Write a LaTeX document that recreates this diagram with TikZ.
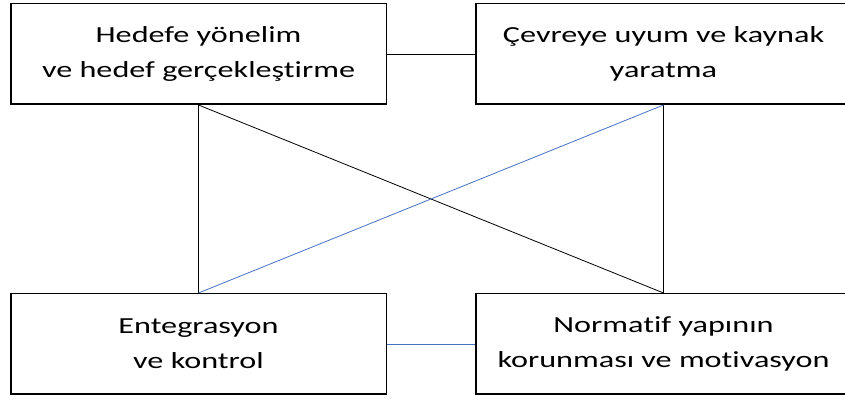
\documentclass[tikz,border=0pt]{standalone}
\usepackage{fontspec}
\setmainfont{Carlito}[FakeStretch=1.4,Ligatures=NoCommon]
\definecolor{linkblue}{HTML}{4472C4}
\tikzset{
  box/.style={draw,line width=1.5pt,minimum width=375.5pt,minimum height=100.5pt,
    align=center,font=\fontsize{23}{35}\selectfont},
  link/.style={line width=0.8pt}
}
\begin{document}
\begin{tikzpicture}[x=1pt,y=1pt,node distance=290pt]
      \clip (0,0) rectangle (845,403);
      \node [box] (goal) at (198.5,349) {Hedefe yönelim\\ve hedef gerçekleştirme};
      \node [box,right of=goal,xshift=175pt] (adapt) {Çevreye uyum ve kaynak\\yaratma};
      \node [box,below of=goal] (integ) {Entegrasyon\\ve kontrol};
      \node [box,below of=adapt] (norm) {Normatif yapının\\korunması ve motivasyon};

      \draw[link] (goal) -- (adapt);
      \draw[link] (goal.south) -- (integ.north);
      \draw[link] (adapt.south) -- (norm.north);
      \draw[link] (goal.south) -- (norm.north);
      \draw[link,linkblue] (adapt.south) -- (integ.north);
      \draw[link,linkblue] (integ) -- (norm);
    \end{tikzpicture}
\end{document}
